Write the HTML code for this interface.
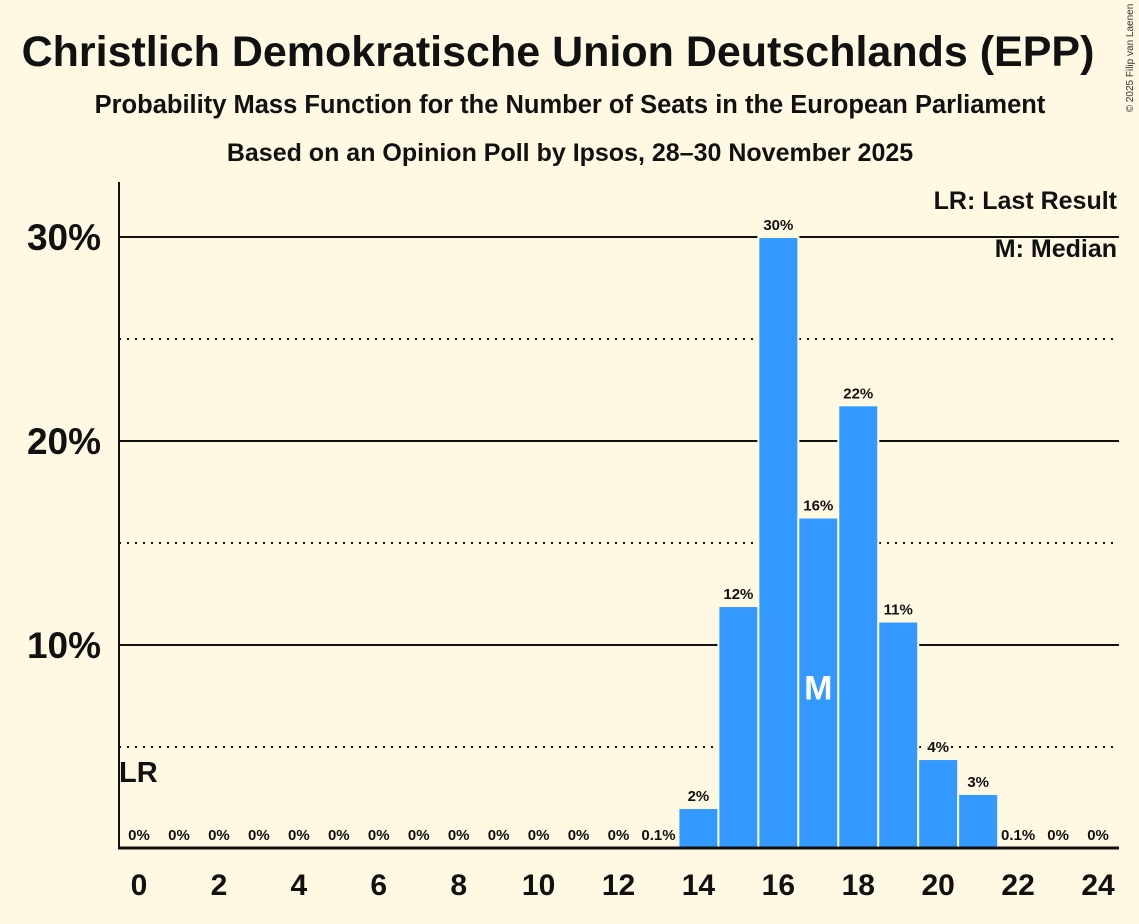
<!DOCTYPE html>
<html><head><meta charset="utf-8"><style>
body{margin:0;background:#FFF8E3;}
svg{display:block;font-family:"Liberation Sans",sans-serif;}
</style></head><body>
<svg id="c" width="1139" height="924" xmlns="http://www.w3.org/2000/svg">
<rect width="1139" height="924" fill="#FFF8E3"/>
<text x="558" y="66" text-anchor="middle" font-size="43" font-weight="bold" fill="#111">Christlich Demokratische Union Deutschlands (EPP)</text>
<text x="570" y="113" text-anchor="middle" font-size="25.5" font-weight="bold" fill="#111">Probability Mass Function for the Number of Seats in the European Parliament</text>
<text x="570" y="161" text-anchor="middle" font-size="25" font-weight="bold" fill="#111">Based on an Opinion Poll by Ipsos, 28–30 November 2025</text>
<text x="1133" y="58" transform="rotate(-90 1133 58)" text-anchor="middle" font-size="10" fill="#333">© 2025 Filip van Laenen</text>
<g id="grid"></g>
<g id="bars"></g>
<line x1="119" y1="182" x2="119" y2="849" stroke="#111" stroke-width="2"/>
<line x1="118" y1="848" x2="1119" y2="848" stroke="#111" stroke-width="3"/>
<text x="1117" y="209" text-anchor="end" font-size="25" font-weight="bold" fill="#111">LR: Last Result</text>
<text x="1117" y="257" text-anchor="end" font-size="25" font-weight="bold" fill="#111">M: Median</text>
</svg>
<script>
const seats=[0,1,2,3,4,5,6,7,8,9,10,11,12,13,14,15,16,17,18,19,20,21,22,23,24];
const probs=[0,0,0,0,0,0,0,0,0,0,0,0,0,0.1,1.96,11.86,29.95,16.2,21.7,11.1,4.36,2.65,0.1,0,0];
const labels=["0%","0%","0%","0%","0%","0%","0%","0%","0%","0%","0%","0%","0%","0.1%","2%","12%","30%","16%","22%","11%","4%","3%","0.1%","0%","0%"];
const yTicks=[10,20,30];
const yMinor=[5,15,25];
const xTickVals=[0,2,4,6,8,10,12,14,16,18,20,22,24];
const medianSeat=17, lastResultSeat=0;
const NS="http://www.w3.org/2000/svg";
const X=s=>139+s*39.96;
const Y=v=>849-v*20.4;
const grid=document.getElementById('grid'), bars=document.getElementById('bars'), svg=document.getElementById('c');
function mk(tag,at,p){const e=document.createElementNS(NS,tag);for(const k in at)e.setAttribute(k,at[k]);(p||svg).appendChild(e);return e;}
yMinor.forEach(v=>{const l=mk('line',{x1:119,x2:1119,y1:Y(v),y2:Y(v),stroke:'#111','stroke-width':2,'stroke-dasharray':'2,6'},grid);

});
yTicks.forEach(v=>{const l=mk('line',{x1:119,x2:1119,y1:Y(v),y2:Y(v),stroke:'#111','stroke-width':2},grid);


const t=mk('text',{x:101,y:Y(v)+13,'text-anchor':'end','font-size':37,'font-weight':'bold',fill:'#111'});t.textContent=v+'%';

});
seats.forEach((s,i)=>{const v=probs[i];
if(v>0){const r=mk('rect',{x:X(s)-21,y:Y(v)-2,width:42,height:849-Y(v)+2,fill:'#FFF8E3'},bars);


const b=mk('rect',{x:X(s)-19,y:Y(v),width:38,height:848-Y(v),fill:'#3399FF'},bars);

}
const ty=v>1?Y(v)-8:840;
const bw=labels[i].length*8;
const bg=mk('rect',{x:X(s)-bw/2-3,y:ty-14,width:bw+6,height:18,fill:'#FFF8E3'},bars);


const t=mk('text',{x:X(s),y:ty,'text-anchor':'middle','font-size':15,'font-weight':'bold',fill:'#111'},bars);t.textContent=labels[i];


if(s===medianSeat){const m=mk('text',{x:X(s),y:Y(probs[i])+181,'text-anchor':'middle','font-size':34,'font-weight':'bold',fill:'#fff'},bars);m.textContent='M';

}
});
xTickVals.forEach(s=>{const t=mk('text',{x:X(s),y:895,'text-anchor':'middle','font-size':30,'font-weight':'bold',fill:'#111'});t.textContent=s;

});
const lr=mk('text',{x:X(lastResultSeat)-20,y:782,'font-size':29,'font-weight':'bold',fill:'#111'});lr.textContent='LR';


</script>
</body></html>
